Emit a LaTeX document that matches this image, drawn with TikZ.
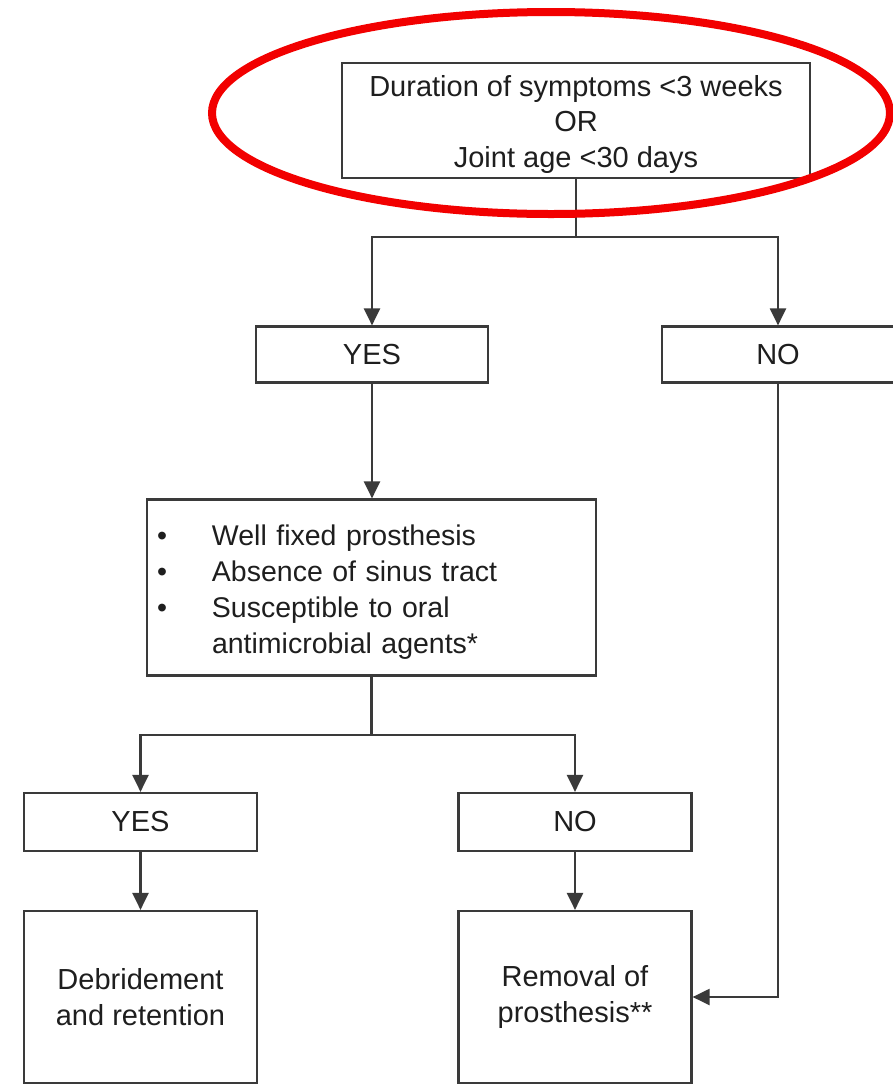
\documentclass[tikz,border=0pt]{standalone}
\usepackage{fontspec}
\setmainfont{Liberation Sans}
\usetikzlibrary{arrows.meta}
\definecolor{lc}{HTML}{3A3A3A}
\definecolor{tc}{HTML}{1E1E1E}
\definecolor{ering}{HTML}{F20000}
\newcommand\dropby[2]{\raisebox{0pt}[\dimexpr\height+#1\relax][\depth]{#2}}
\begin{document}
\begin{tikzpicture}[x=1pt,y=-1pt,
  box/.style={draw=lc, line width=2.2pt, inner sep=0pt, text=tc,
    font=\fontsize{29}{35.5}\selectfont, align=center},
  conn/.style={draw=lc, line width=2.2pt},
  arr/.style={conn, -{Triangle[length=17pt,width=16pt]}}]
\useasboundingbox (0,0) rectangle (893,1085);
\fill[white] (0,0) rectangle (893,1085);

\node[box, minimum width=468, minimum height=115] (top) at (576,120.5)
  {\dropby{8pt}{\begin{tabular}{@{}c@{}}Duration of symptoms <3 weeks\\OR\\Joint age <30 days\end{tabular}}};
\node[box, minimum width=232, minimum height=56] (yes1) at (372,354.5) {YES};
\node[box, minimum width=232, minimum height=56] (no1) at (778,354.5) {NO};
\node[box, minimum width=449, minimum height=176, text width=429pt, align=left,
  font=\fontsize{28.5}{36}\selectfont] (mid) at (371.5,587.5)
  {\dropby{10pt}{\begin{tabular}{@{}p{55pt}@{}l@{}}
  \textbullet & Well fixed prosthesis\\
  \textbullet & Absence of sinus tract\\
  \textbullet & Susceptible to oral\\
   & antimicrobial agents*
  \end{tabular}}};
\node[box, minimum width=233, minimum height=58] (yes2) at (140.5,822) {YES};
\node[box, minimum width=233, minimum height=58] (no2) at (575,822) {NO};
\node[box, minimum width=233, minimum height=172] (deb) at (140.5,997) {Debridement\\and retention};
\node[box, minimum width=233, minimum height=172] (rem) at (575,997) {Removal of\\prosthesis**};

\coordinate (j1) at (576,237);
\coordinate (j2) at (371.5,735);
\draw[conn] (top.south) -- (j1);
\draw[arr] (j1) -| (yes1.north);
\draw[arr] (j1) -| (no1.north);
\draw[arr] (yes1.south) -- (yes1.south |- mid.north);
\draw[conn] (mid.south) -- (j2);
\draw[arr] (j2) -| (yes2.north);
\draw[arr] (j2) -| (no2.north);
\draw[arr] (yes2.south) -- (deb.north);
\draw[arr] (no2.south) -- (rem.north);
\draw[arr] (no1.south) -- (no1.south |- rem.east) -- (rem.east);

\draw[ering, line width=8pt] (551,113) ellipse [x radius=339, y radius=101];
\end{tikzpicture}
\end{document}
